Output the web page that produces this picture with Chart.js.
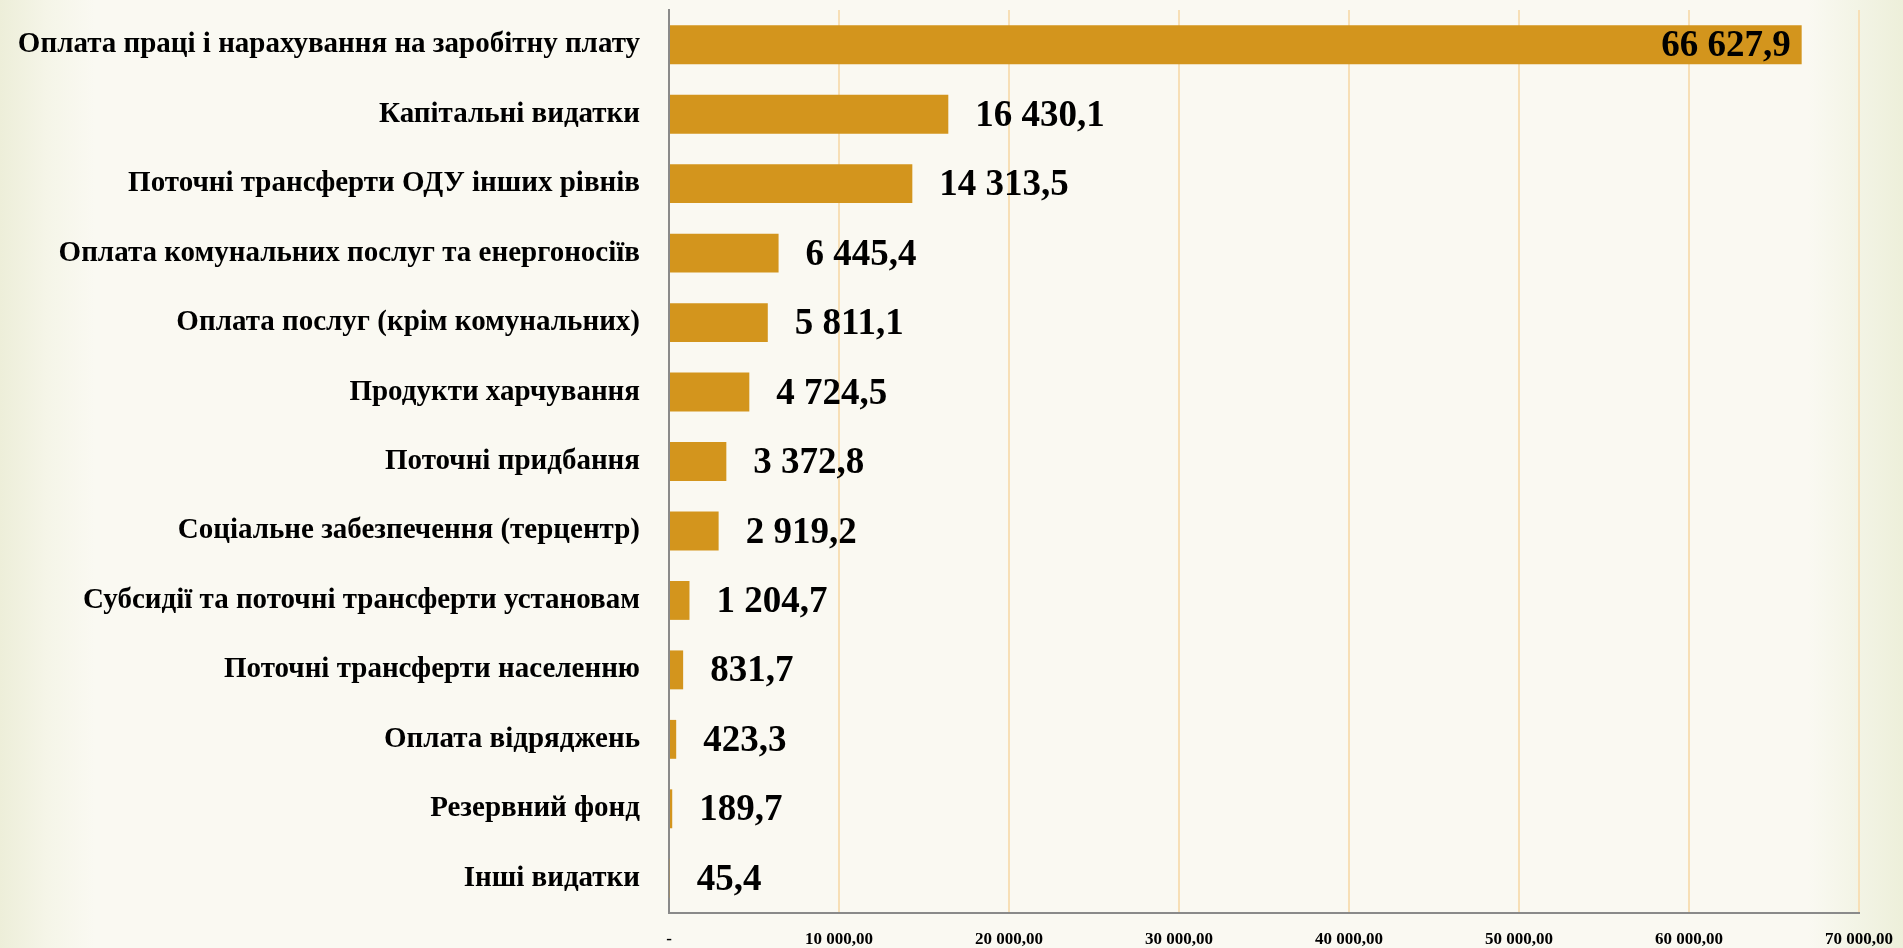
<!DOCTYPE html>
<html lang="uk">
<head>
<meta charset="utf-8">
<title>Видатки</title>
<script src="https://cdn.jsdelivr.net/npm/chart.js@4.4.1/dist/chart.umd.min.js"></script>
<style>
  html, body {
    margin: 0;
    padding: 0;
    width: 1903px;
    height: 948px;
    overflow: hidden;
    background: linear-gradient(to right, #edeed9 0%, #f5f5e8 2.5%, #faf9f2 5%, #faf9f2 95%, #f3f4e6 97.5%, #edefda 100%);
  }
  canvas { display: block; }
</style>
</head>
<body>
<canvas id="myChart" width="1903" height="948"></canvas>
<script>
var categories = [
  'Оплата праці і нарахування на заробітну плату',
  'Капітальні видатки',
  'Поточні трансферти ОДУ інших рівнів',
  'Оплата комунальних послуг та енергоносіїв',
  'Оплата послуг (крім комунальних)',
  'Продукти харчування',
  'Поточні придбання',
  'Соціальне забезпечення (терцентр)',
  'Субсидії та поточні трансферти установам',
  'Поточні трансферти населенню',
  'Оплата відряджень',
  'Резервний фонд',
  'Інші видатки'
];
var values = [66627.9, 16430.1, 14313.5, 6445.4, 5811.1, 4724.5, 3372.8, 2919.2, 1204.7, 831.7, 423.3, 189.7, 45.4];
var xTickLabels = ['-', '10 000,00', '20 000,00', '30 000,00', '40 000,00', '50 000,00', '60 000,00', '70 000,00'];

// 66627.9 -> "66 627,9"
function fmt(v) {
  var parts = v.toFixed(1).split('.');
  return parts[0].replace(/\B(?=(\d{3})+(?!\d))/g, ' ') + ',' + parts[1];
}

var valueLabels = {
  id: 'valueLabels',
  afterDatasetsDraw: function (chart) {
    var ctx = chart.ctx;
    var area = chart.chartArea;
    var meta = chart.getDatasetMeta(0);
    ctx.save();
    ctx.font = 'bold 37px "Liberation Serif"';
    ctx.fillStyle = '#000';
    ctx.textBaseline = 'middle';
    meta.data.forEach(function (bar, i) {
      var text = fmt(values[i]);
      var w = ctx.measureText(text).width;
      var x = bar.x + 27;
      ctx.textAlign = 'left';
      if (x + w > area.left + (area.right - area.left) * 0.9) {
        ctx.textAlign = 'right';
        x = bar.x - 11;
      }
      ctx.fillText(text, x, bar.y + 2);
    });
    ctx.restore();
  }
};

var ctx = document.getElementById('myChart').getContext('2d');
var myChart = new Chart(ctx, {
  type: 'bar',
  data: {
    labels: categories,
    datasets: [{
      data: values,
      backgroundColor: '#d3951d',
      borderWidth: 0,
      categoryPercentage: 1,
      barPercentage: 0.56
    }]
  },
  options: {
    indexAxis: 'y',
    responsive: false,
    animation: false,
    layout: { padding: { top: 10, right: 44, left: 0, bottom: 0 } },
    plugins: {
      legend: { display: false },
      tooltip: { enabled: false }
    },
    scales: {
      x: {
        min: 0,
        max: 70000,
        ticks: {
          stepSize: 10000,
          padding: 16,
          color: '#000',
          font: { family: '"Liberation Serif"', size: 17, weight: 'bold' },
          callback: function (v, i) { return xTickLabels[i]; }
        },
        grid: { color: '#f7dfb6', lineWidth: 2, drawTicks: false },
        border: { color: '#8a8a8a', width: 2 },
        afterFit: function (scale) {
          scale.height = 35;
          scale.paddingLeft = 0;
          scale.paddingRight = 0;
        }
      },
      y: {
        ticks: {
          autoSkip: false,
          padding: 29,
          color: '#000',
          font: { family: '"Liberation Serif"', size: 29, weight: 'bold' }
        },
        grid: { display: false, drawTicks: false },
        border: { color: '#8a8a8a', width: 2 },
        afterFit: function (scale) {
          scale.width = 669;
          scale.paddingTop = 0;
          scale.paddingBottom = 0;
        }
      }
    }
  },
  plugins: [valueLabels]
});
</script>
</body>
</html>
